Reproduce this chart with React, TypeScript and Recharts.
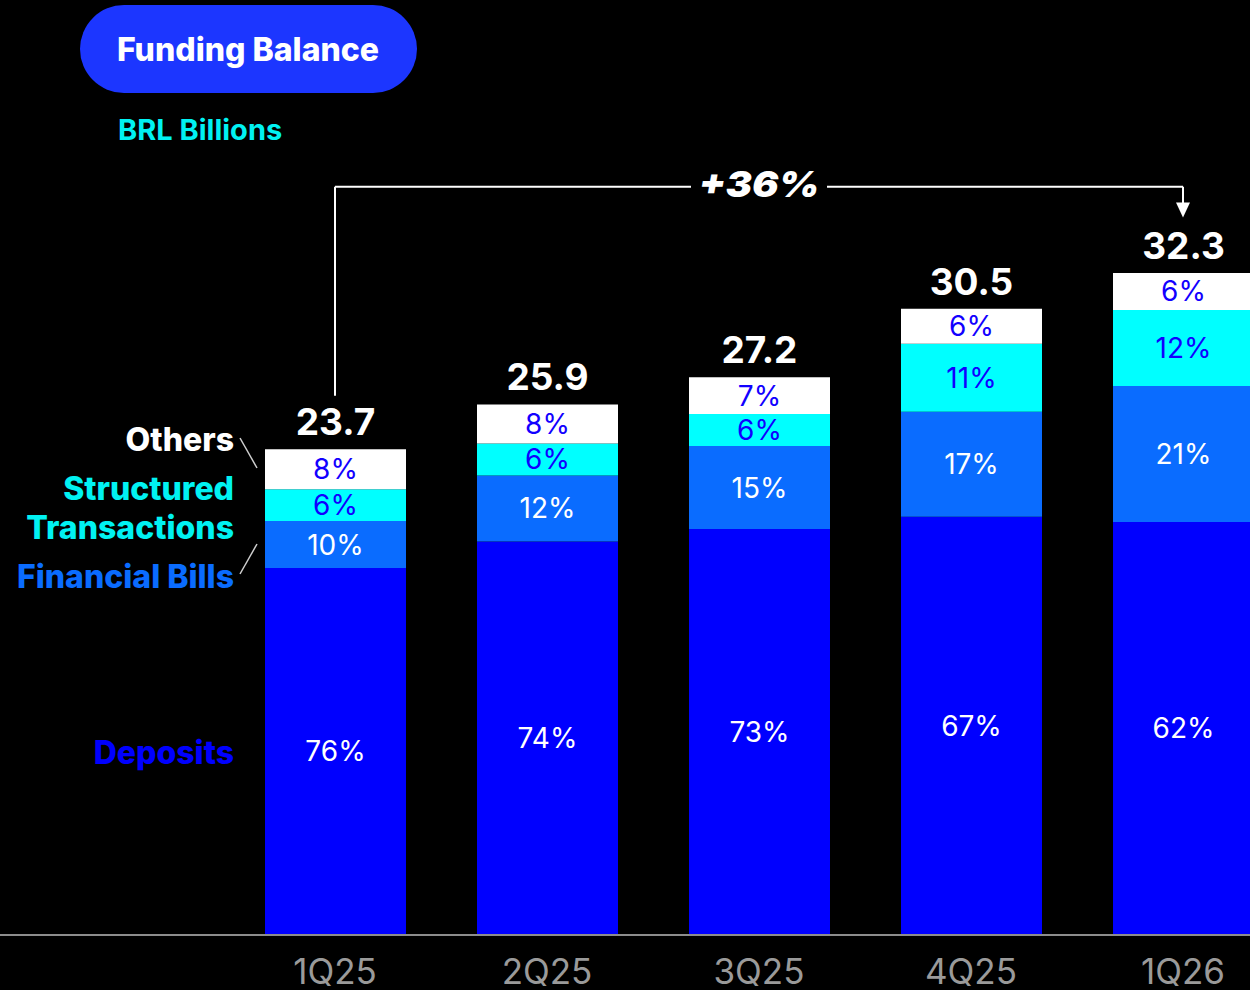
import React from 'react';
import { BarChart, Bar, XAxis, YAxis, LabelList, ReferenceLine, ReferenceDot } from 'recharts';

const quarters = ['1Q25', '2Q25', '3Q25', '4Q25', '1Q26'];
const deposits = [17.9, 19.2, 19.8, 20.4, 20.15];
const financialBills = [2.29, 3.22, 4.05, 5.12, 6.63];
const structured = [1.56, 1.56, 1.56, 3.32, 3.71];
const others = [1.95, 1.9, 1.8, 1.71, 1.8];
const totals = ['23.7', '25.9', '27.2', '30.5', '32.3'];
const depositsPct = ['76%', '74%', '73%', '67%', '62%'];
const billsPct = ['10%', '12%', '15%', '17%', '21%'];
const structuredPct = ['6%', '6%', '6%', '11%', '12%'];
const othersPct = ['8%', '8%', '7%', '6%', '6%'];

const growthLabel = '+36%';
const bracketStart = 26.3;
const bracketLevel = 36.5;
const arrowBase = 35.7;
const arrowTip = 35.0;

const data = quarters.map((q, i) => ({
  q,
  deposits: deposits[i],
  bills: financialBills[i],
  structured: structured[i],
  others: others[i],
  total: totals[i],
  depPct: depositsPct[i],
  billsPct: billsPct[i],
  strPct: structuredPct[i],
  othPct: othersPct[i],
}));

const FONT = 'Inter, "Noto Sans", sans-serif';
const C_DEP = '#0000ff';
const C_BILLS = '#0a6cff';
const C_STR = '#00ffff';
const C_OTH = '#ffffff';
const C_LBL_BLUE = '#1200ff';

const GrowthLabel = (props: any) => {
  const vb = props.viewBox || {};
  const cx = (vb.x || 0) + (vb.width || 0) / 2;
  const cy = vb.y || 0;
  return (
    <g>
      <rect x={cx - 68} y={cy - 22} width={136} height={44} fill="#000" />
      <text
        x={cx}
        y={cy + 10}
        textAnchor="middle"
        fill="#fff"
        fontFamily={FONT}
        fontSize={36}
        fontWeight={900}
        fontStyle="italic"
        textLength={121}
        lengthAdjust="spacingAndGlyphs"
      >
        {growthLabel}
      </text>
    </g>
  );
};

const ArrowHead = (props: any) => {
  const { cx, cy } = props;
  return <polygon points={`${cx - 7},${cy - 15} ${cx + 7},${cy - 15} ${cx},${cy}`} fill="#fff" />;
};

export default function App() {
  const pctStyle = { fontFamily: FONT, fontSize: 28, fontWeight: 400 } as any;
  return (
    <div
      style={{
        position: 'fixed',
        left: 0,
        top: 0,
        width: 1250,
        height: 990,
        overflow: 'hidden',
        background: '#000',
      }}
    >
      <BarChart
        width={1300}
        height={990}
        data={data}
        margin={{ top: 115, right: 0, bottom: 0, left: 0 }}
        style={{ background: '#000' }}
      >
        <XAxis
          dataKey="q"
          height={55}
          padding={{ left: 229, right: 11 }}
          axisLine={{ stroke: '#8c8c8c', strokeWidth: 2 }}
          tickLine={false}
          tickMargin={18}
          tick={{ fill: '#9a9a9a', fontSize: 35, fontFamily: FONT }}
          interval={0}
        />
        <YAxis hide domain={[0, 40]} />
        <Bar dataKey="deposits" stackId="a" fill={C_DEP} barSize={141} isAnimationActive={false}>
          <LabelList dataKey="depPct" position="center" fill="#fff" style={pctStyle} />
        </Bar>
        <Bar dataKey="bills" stackId="a" fill={C_BILLS} barSize={141} isAnimationActive={false}>
          <LabelList dataKey="billsPct" position="center" fill="#fff" style={pctStyle} />
        </Bar>
        <Bar dataKey="structured" stackId="a" fill={C_STR} barSize={141} isAnimationActive={false}>
          <LabelList dataKey="strPct" position="center" fill={C_LBL_BLUE} style={pctStyle} />
        </Bar>
        <Bar dataKey="others" stackId="a" fill={C_OTH} barSize={141} isAnimationActive={false}>
          <LabelList dataKey="othPct" position="center" fill={C_LBL_BLUE} style={pctStyle} />
          <LabelList
            dataKey="total"
            position="top"
            offset={14}
            fill="#fff"
            style={{ fontFamily: FONT, fontSize: 37, fontWeight: 700 }}
          />
        </Bar>
        <ReferenceLine
          segment={[
            { x: quarters[0], y: bracketStart },
            { x: quarters[0], y: bracketLevel },
          ]}
          stroke="#fff"
          strokeWidth={2}
        />
        <ReferenceLine
          segment={[
            { x: quarters[0], y: bracketLevel },
            { x: quarters[4], y: bracketLevel },
          ]}
          stroke="#fff"
          strokeWidth={2}
          label={GrowthLabel}
        />
        <ReferenceLine
          segment={[
            { x: quarters[4], y: bracketLevel },
            { x: quarters[4], y: arrowBase },
          ]}
          stroke="#fff"
          strokeWidth={2}
        />
        <ReferenceDot x={quarters[4]} y={arrowTip} r={8} shape={ArrowHead} />
      </BarChart>
      <svg
        width={1250}
        height={990}
        style={{ position: 'absolute', left: 0, top: 0, pointerEvents: 'none' }}
      >
        <rect x={80} y={5} width={337} height={88} rx={44} fill="#1c36ff" />
        <text x={248} y={61} textAnchor="middle" fill="#fff" fontFamily={FONT} fontSize={32} fontWeight={800}>
          Funding Balance
        </text>
        <text x={118} y={140} fill="#00f2f2" fontFamily={FONT} fontSize={29} fontWeight={700}>
          BRL Billions
        </text>
        <g fontFamily={FONT} fontSize={32} fontWeight={800} textAnchor="end">
          <text x={234} y={451} fill="#fff">Others</text>
          <text x={234} y={500} fill="#00f2f2">Structured</text>
          <text x={234} y={539} fill="#00f2f2">Transactions</text>
          <text x={234} y={588} fill={C_BILLS}>Financial Bills</text>
          <text x={234} y={764} fill="#0000ff">Deposits</text>
        </g>
        <line x1={240} y1={438} x2={257} y2={468} stroke="#cfcfcf" strokeWidth={1.5} />
        <line x1={257} y1={544} x2={240} y2={574} stroke="#cfcfcf" strokeWidth={1.5} />
      </svg>
    </div>
  );
}
